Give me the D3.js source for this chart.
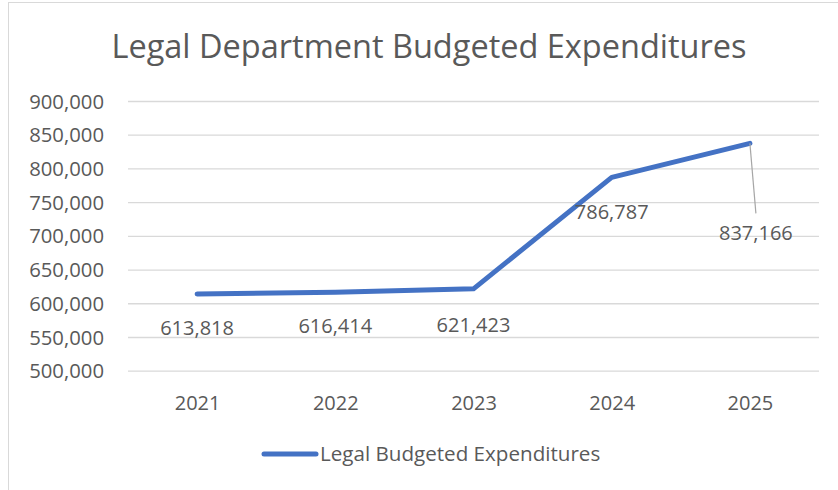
<!DOCTYPE html>
<html><head><meta charset="utf-8">
<script src="https://cdn.jsdelivr.net/npm/d3@7"></script>
<style>body{margin:0;background:#fff}svg{display:block}text{font-family:"Open Sans",Lato,sans-serif;fill:#595959}</style>
</head><body><svg id="c" width="838" height="490"></svg>
<script>
const title = "Legal Department Budgeted Expenditures";
const seriesName = "Legal Budgeted Expenditures";
const years = ["2021","2022","2023","2024","2025"];
const values = [613818, 616414, 621423, 786787, 837166];
const yTicks = [500000,550000,600000,650000,700000,750000,800000,850000,900000];

const svg = d3.select("#c");
svg.append("rect").attr("x",8.5).attr("y",2.5).attr("width",900).attr("height",600)
  .attr("fill","#fff").attr("stroke","#d9d9d9");

const pL=128, pR=819, pT=101, pB=370.7;
const x = d3.scalePoint().domain(years).range([pL,pR]).padding(0.5);
const y = d3.scaleLinear().domain([500000,900000]).range([pB,pT]);
const fmt = d3.format(",");
const fs = "20px";

svg.append("text").attr("x",429).attr("y",47).attr("dy","0.35em").attr("text-anchor","middle")
  .style("font-size","32.5px").text(title);

const gy = svg.append("g").attr("transform",`translate(${pL},0)`)
  .call(d3.axisLeft(y).tickValues(yTicks).tickSize(-(pR-pL)).tickFormat(fmt).tickPadding(24));
gy.select(".domain").remove();
gy.selectAll(".tick line").attr("stroke","#d9d9d9").attr("stroke-width",1.3);
gy.selectAll(".tick text").style("font-size","20.3px").attr("dy","0.35em");

const gx = svg.append("g").attr("transform",`translate(0,${pB})`)
  .call(d3.axisBottom(x).tickSize(0).tickPadding(32));
gx.select(".domain").remove();
gx.selectAll(".tick text").style("font-size",fs).attr("dy","0.35em");

const data = years.map((k,i)=>({k,v:values[i]}));
svg.append("path").datum(data).attr("fill","none").attr("stroke","#4472c4")
  .attr("stroke-width",5).attr("stroke-linejoin","round").attr("stroke-linecap","round")
  .attr("d", d3.line().x(d=>x(d.k)).y(d=>y(d.v)));

const last = data[4];
svg.append("line").attr("x1",x(last.k)).attr("y1",y(last.v))
  .attr("x2",x(last.k)+6).attr("y2",y(last.v)+70).attr("stroke","#a6a6a6").attr("stroke-width",1.2);

const offs = [[0,34],[0,34],[0,36],[0,35],[6,90]];
svg.selectAll(".lbl").data(data).join("text").attr("class","lbl")
  .attr("x",(d,i)=>x(d.k)+offs[i][0]).attr("y",(d,i)=>y(d.v)+offs[i][1])
  .attr("text-anchor","middle").attr("dy","0.35em").style("font-size",fs)
  .text(d=>fmt(d.v));

svg.append("line").attr("x1",264).attr("x2",316).attr("y1",454).attr("y2",454)
  .attr("stroke","#4472c4").attr("stroke-width",5).attr("stroke-linecap","round");
svg.append("text").attr("x",320).attr("y",454).attr("dy","0.35em").style("font-size","20.6px").text(seriesName);
</script></body></html>
